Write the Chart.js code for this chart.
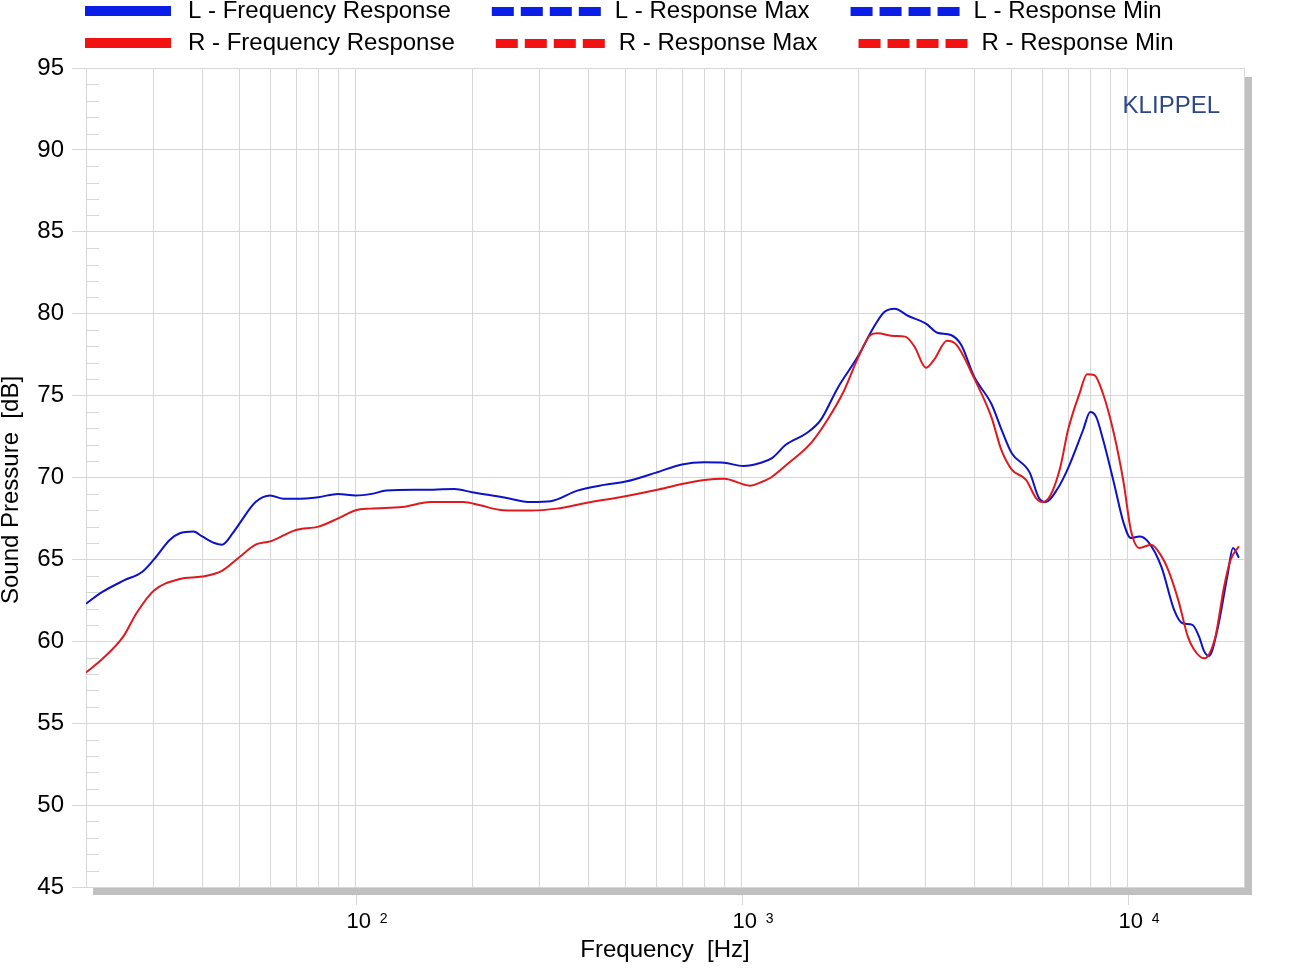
<!DOCTYPE html>
<html>
<head>
<meta charset="utf-8">
<script src="https://cdn.jsdelivr.net/npm/chart.js@4.4.1/dist/chart.umd.min.js"></script>
<style>
  html, body { margin: 0; padding: 0; background: #fff; }
  #chart { display: block; }
</style>
</head>
<body>
<canvas id="chart" width="1300" height="975"></canvas>
<script>
// values (Hz / dB SPL)
const leftFreq = [20, 22, 25, 28, 30, 33, 35, 38, 40, 43, 45, 48, 50, 55, 60, 65, 70, 80, 90, 100,
  110, 120, 150, 180, 200, 240, 285, 320, 375, 440, 500, 600, 700, 800, 900, 1010, 1120, 1200,
  1300, 1470, 1600, 1775, 2000, 2200, 2340, 2490, 2700, 3000, 3210, 3480, 3700, 4000, 4430,
  4730, 5000, 5570, 5870, 6130, 6570, 7000, 7660, 7990, 8280, 8630, 9200, 9760, 10180, 10720,
  11270, 12220, 13190, 13860, 14700, 15290, 15760, 16230, 17060, 18100, 18730, 19400];
const leftSpl = [62.3, 63.0, 63.7, 64.25, 65.0, 66.2, 66.6, 66.7, 66.4, 66.0, 65.9, 66.6, 67.2, 68.5, 68.9, 68.7, 68.7, 68.8, 69.0, 68.9,
  69.0, 69.2, 69.25, 69.3, 69.1, 68.8, 68.5, 68.55, 69.2, 69.55, 69.75, 70.3, 70.8, 70.93, 70.9, 70.7, 70.9, 71.2,
  72.0, 72.7, 73.5, 75.5, 77.4, 79.2, 80.1, 80.3, 79.86, 79.4, 78.84, 78.7, 78.1, 76.15, 74.5,
  72.8, 71.5, 70.3, 68.8, 68.5, 69.3, 70.56, 72.9, 74.0, 73.7, 72.3, 69.7, 67.2, 66.3, 66.4,
  66.1, 64.55, 61.9, 61.1, 61.0, 60.3, 59.4, 59.1, 60.7, 63.95, 65.7, 65.1];

const rightFreq = [20, 22, 25, 27, 30, 35, 40, 45, 50, 55, 60, 70, 80, 90, 100, 109, 132, 156, 190, 210,
  241, 284, 331, 397, 484, 600, 700, 800, 900, 1050, 1118, 1190, 1304, 1510, 1664, 1840, 2000,
  2155, 2242, 2486, 2650, 2800, 3000, 3150, 3400, 3600, 4000, 4430, 4700, 5000, 5450, 5790,
  6000, 6300, 6690, 7000, 7500, 7840, 8180, 8630, 9200, 9760, 10180, 10720, 11500, 12220,
  12730, 13520, 14300, 14840, 15760, 16230, 16870, 17750, 18460, 19400];
const rightSpl = [58.1, 58.9, 60.3, 61.7, 63.1, 63.8, 63.95, 64.3, 65.15, 65.9, 66.1, 66.8, 67.0, 67.5, 68.0, 68.1, 68.2, 68.5, 68.5, 68.3,
  68.0, 67.98, 68.1, 68.46, 68.8, 69.24, 69.6, 69.85, 69.93, 69.5, 69.7, 70.0, 70.76, 72.1, 73.5, 75.3, 77.3,
  78.7, 78.8, 78.64, 78.6, 78.0, 76.7, 77.2, 78.35, 78.1, 76.05, 73.7, 71.7, 70.5, 69.85, 68.73,
  68.5, 68.9, 70.66, 72.9, 75.14, 76.3, 76.26, 75.1, 72.7, 69.65, 66.8, 65.7, 65.9, 65.2,
  64.35, 62.5, 60.3, 59.5, 58.96, 59.2, 60.3, 63.3, 64.97, 65.8];

const xGridFreqs = [20, 30, 40, 50, 60, 70, 80, 90, 100, 200, 300, 400, 500, 600, 700, 800, 900,
  1000, 2000, 3000, 4000, 5000, 6000, 7000, 8000, 9000, 10000, 20000];
const xDecades = [100, 1000, 10000];
const xExponents = ['2', '3', '4'];

const legendLabels = [
  ['L - Frequency Response', 'L - Response Max', 'L - Response Min'],
  ['R - Frequency Response', 'R - Response Max', 'R - Response Min']
];
const legendDashed = [false, true, true];

const FONT = "'Liberation Sans', Arial, sans-serif";
const GRID = '#d6d6d6';
const lineColors = ['#0c12c6', '#de1a1e'];
const swatchColors = ['#0a1ee8', '#f21212'];

function toPoints(xs, ys) {
  return xs.map((f, i) => ({ x: f, y: ys[i] }));
}

const decor = {
  id: 'decor',
  beforeDatasetsDraw(chart) {
    const ctx = chart.ctx, area = chart.chartArea, y = chart.scales.y;
    ctx.save();
    ctx.strokeStyle = GRID;
    ctx.lineWidth = 1;
    for (let v = 46; v < 95; v++) {
      if (v % 5 === 0) continue;
      const py = Math.round(y.getPixelForValue(v)) + 0.5;
      ctx.beginPath();
      ctx.moveTo(area.left, py);
      ctx.lineTo(area.left + 13, py);
      ctx.stroke();
    }
    ctx.restore();
  },
  afterDraw(chart) {
    const ctx = chart.ctx, area = chart.chartArea, x = chart.scales.x;
    ctx.save();

    // decade tick marks below the frame
    ctx.strokeStyle = GRID;
    ctx.lineWidth = 1;
    xDecades.forEach(f => {
      const px = Math.round(x.getPixelForValue(f)) + 0.5;
      ctx.beginPath();
      ctx.moveTo(px, area.bottom);
      ctx.lineTo(px, area.bottom + 18);
      ctx.stroke();
    });

    // drop shadow of the plot frame
    ctx.fillStyle = '#c0c0c0';
    ctx.fillRect(area.right + 1, area.top + 9, 7, area.bottom - area.top - 1);
    ctx.fillRect(area.left + 7, area.bottom + 1, area.right - area.left + 1, 7);

    // decade labels 10^n
    ctx.fillStyle = '#000';
    ctx.textBaseline = 'alphabetic';
    xDecades.forEach((f, i) => {
      const px = x.getPixelForValue(f);
      ctx.font = '22px ' + FONT;
      ctx.textAlign = 'center';
      ctx.fillText('10', px + 3, 928);
      ctx.font = '14px ' + FONT;
      ctx.textAlign = 'left';
      ctx.fillText(xExponents[i], px + 24, 923);
    });

    // axis titles
    ctx.font = '24px ' + FONT;
    ctx.textAlign = 'center';
    ctx.textBaseline = 'middle';
    ctx.fillText('Frequency  [Hz]', (area.left + area.right) / 2, 950);
    ctx.save();
    ctx.translate(11, 490);
    ctx.rotate(-Math.PI / 2);
    ctx.fillText('Sound Pressure  [dB]', 0, 0);
    ctx.restore();

    // watermark
    ctx.fillStyle = '#2c4688';
    ctx.textAlign = 'right';
    ctx.fillText('KLIPPEL', 1220, 106);

    // legend, two rows of three entries
    ctx.textAlign = 'left';
    ctx.fillStyle = '#000';
    legendLabels.forEach((row, r) => {
      const cy = 11 + r * 32;
      let cx = 85;
      row.forEach((label, c) => {
        ctx.fillStyle = swatchColors[r];
        if (legendDashed[c]) {
          for (let k = 0; k < 4; k++) ctx.fillRect(cx + k * 29, cy - 4, 22, 9);
          cx += 106;
        } else {
          ctx.fillRect(cx, cy - 5, 86, 10);
          cx += 86;
        }
        cx += 17;
        ctx.fillStyle = '#000';
        ctx.fillText(label, cx, cy);
        cx += ctx.measureText(label).width + 41;
      });
    });
    ctx.restore();
  }
};

new Chart(document.getElementById('chart'), {
  type: 'line',
  data: {
    datasets: [
      {
        label: 'L - Frequency Response',
        data: toPoints(leftFreq, leftSpl),
        borderColor: lineColors[0],
        borderWidth: 2,
        pointRadius: 0,
        cubicInterpolationMode: 'monotone',
        order: 1
      },
      {
        label: 'R - Frequency Response',
        data: toPoints(rightFreq, rightSpl),
        borderColor: lineColors[1],
        borderWidth: 2,
        pointRadius: 0,
        cubicInterpolationMode: 'monotone',
        order: 0
      }
    ]
  },
  options: {
    responsive: false,
    animation: false,
    devicePixelRatio: 1,
    layout: { padding: { top: 68, right: 56, left: 0, bottom: 0 } },
    plugins: {
      legend: { display: false },
      tooltip: { enabled: false }
    },
    scales: {
      x: {
        type: 'logarithmic',
        min: 20,
        max: 20000,
        afterBuildTicks: (scale) => {
          scale.ticks = xGridFreqs.map(v => ({ value: v }));
        },
        afterFit: (scale) => { scale.height = 88; },
        ticks: { display: false },
        grid: { color: GRID, drawTicks: false },
        border: { color: GRID }
      },
      y: {
        min: 45,
        max: 95,
        afterFit: (scale) => { scale.width = 86; },
        ticks: {
          stepSize: 5,
          color: '#000',
          padding: 8,
          font: { family: FONT, size: 24 }
        },
        grid: { color: GRID, tickLength: 14 },
        border: { color: GRID }
      }
    }
  },
  plugins: [decor]
});
</script>
</body>
</html>
